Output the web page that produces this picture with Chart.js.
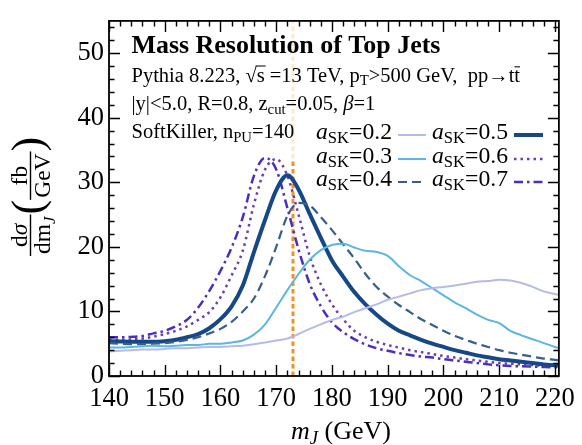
<!DOCTYPE html>
<html>
<head>
<meta charset="utf-8">
<title>Mass Resolution of Top Jets</title>
<script src="https://cdn.jsdelivr.net/npm/chart.js@4/dist/chart.umd.min.js"></script>
<style>
  html, body { margin: 0; padding: 0; background: #ffffff; }
  canvas { display: block; }
</style>
</head>
<body>
<canvas id="chart" width="582" height="445"></canvas>
<script>
// Jet mass bins (GeV)
const mJ = [140,142,144,146,148,150,152,154,156,158,160,162,164,166,168,170,172,174,176,178,
            180,182,184,186,188,190,192,194,196,198,200,202,204,206,208,210,212,214,216,218,220,222];

// dσ/dm_J (fb/GeV) for each SoftKiller parameter a_SK
const sk02 = [3.8,3.9,4.0,4.1,4.1,4.2,4.3,4.3,4.4,4.5,4.5,4.6,4.7,4.9,5.2,5.5,5.8,6.5,7.3,8.0,
              8.7,9.2,9.9,10.5,11.1,11.8,12.3,12.8,13.3,13.6,13.8,14.0,14.3,14.6,14.7,14.9,14.8,14.4,13.8,13.1,12.7,12.3];
const sk03 = [4.4,4.4,4.5,4.6,4.7,4.6,4.7,4.8,4.8,5.0,5.0,5.2,5.5,6.4,8.0,10.6,13.3,15.8,18.0,19.5,
              20.3,20.5,19.9,19.4,19.2,18.6,17.0,15.6,14.7,13.6,12.5,11.4,10.5,9.5,8.7,8.2,7.0,6.3,5.7,5.1,4.5,4.1];
const sk04 = [5.1,5.0,4.95,4.95,5.0,5.1,5.3,5.6,6.0,6.6,7.3,8.4,10.0,12.0,15.5,20.0,24.8,26.8,26.4,24.6,
              22.6,20.4,18.2,15.8,13.8,12.3,11.0,9.9,8.8,7.9,7.0,6.2,5.6,5.0,4.5,4.0,3.6,3.3,3.0,2.7,2.5,2.3];
const sk05 = [5.4,5.35,5.3,5.3,5.3,5.4,5.6,6.0,6.5,7.4,8.8,10.8,14.0,19.2,24.2,28.8,31.1,28.9,25.1,21.4,
              17.9,15.4,13.0,11.1,9.5,8.1,7.0,6.3,5.6,5.0,4.5,4.0,3.6,3.2,2.9,2.6,2.4,2.2,2.0,1.8,1.65,1.55];
const sk06 = [5.6,5.6,5.65,5.8,6.1,6.5,7.0,7.7,8.7,9.9,12.2,15.6,19.4,26.6,32.0,33.6,31.0,25.0,18.6,14.2,
              11.1,8.8,7.0,6.0,5.3,4.8,4.4,4.0,3.7,3.4,3.1,2.85,2.6,2.4,2.2,2.0,1.9,1.8,1.7,1.6,1.55,1.5];
const sk07 = [6.0,6.0,6.05,6.2,6.6,7.0,7.7,8.7,10.6,13.2,16.3,19.9,24.6,31.0,33.8,32.0,26.0,19.6,14.3,10.8,
              8.3,6.8,5.7,4.9,4.3,3.9,3.55,3.25,3.0,2.85,2.6,2.4,2.2,2.0,1.8,1.65,1.55,1.5,1.45,1.4,1.35,1.3];

const skLabels = ['0.2','0.3','0.4','0.5','0.6','0.7'];

// Reference top-quark mass marker (GeV)
const topMass = 173;

// Axis ticks
const xMajorTicks = [140,150,160,170,180,190,200,210,220];
const yMajorTicks = [0,10,20,30,40,50];

const FAM = '"Liberation Serif", "Times New Roman", serif';
function font(size, style) { return (style ? style + ' ' : '') + size.toFixed(2) + 'px ' + FAM; }

const styles = [
  { color: '#b4bbe8', width: 2.0, dash: [] },
  { color: '#5cb6e3', width: 2.0, dash: [] },
  { color: '#355f8d', width: 2.2, dash: [9, 5] },
  { color: '#174886', width: 4.0, dash: [] },
  { color: '#6a3db0', width: 2.5, dash: [2.5, 4] },
  { color: '#4a2cc6', width: 2.5, dash: [9, 4, 2.5, 4] }
];
const series = [sk02, sk03, sk04, sk05, sk06, sk07];

const datasets = series.map((vals, i) => ({
  label: 'a_SK=' + skLabels[i],
  data: mJ.map((x, j) => ({ x: x, y: vals[j] })),
  borderColor: styles[i].color,
  borderWidth: styles[i].width,
  borderDash: styles[i].dash,
  borderCapStyle: 'butt',
  pointRadius: 0,
  fill: false,
  cubicInterpolationMode: 'monotone'
}));

// rich text runs: {t, k: size factor, st: font style, dy: baseline shift in em, bar: overline height in em}
function runWidth(ctx, parts, size) {
  let w = 0;
  for (const p of parts) { ctx.font = font(size * (p.k || 1), p.st || ''); w += ctx.measureText(p.t).width; }
  return w;
}
function drawRun(ctx, parts, x, y, size) {
  for (const p of parts) {
    const s = size * (p.k || 1);
    ctx.font = font(s, p.st || '');
    const w = ctx.measureText(p.t).width;
    const yy = y + (p.dy || 0) * size;
    ctx.fillText(p.t, x, yy);
    if (p.bar) {
      ctx.save();
      ctx.lineWidth = Math.max(1, s * 0.05);
      ctx.beginPath();
      ctx.moveTo(x + (p.barL || 0) * s, yy - p.bar * s);
      ctx.lineTo(x + w + (p.barR || 0) * s, yy - p.bar * s);
      ctx.stroke();
      ctx.restore();
    }
    x += w;
  }
  return x;
}
function fitSize(ctx, parts, target) { return 20 * target / runWidth(ctx, parts, 20); }

const decor = {
  id: 'decor',
  beforeDatasetsDraw(chart) {
    const { ctx, chartArea: a, scales: { x } } = chart;
    const px = x.getPixelForValue(topMass);
    ctx.save();
    ctx.beginPath(); ctx.rect(a.left, a.top, a.right - a.left, a.bottom - a.top); ctx.clip();
    ctx.strokeStyle = '#f7901e';
    ctx.lineWidth = 3;
    ctx.setLineDash([4.5, 3]);
    ctx.beginPath(); ctx.moveTo(px, a.bottom); ctx.lineTo(px, a.top); ctx.stroke();
    // translucent backdrop behind the annotation block
    ctx.fillStyle = 'rgba(255,255,255,0.78)';
    ctx.fillRect(a.left, a.top, a.right - a.left, 139);
    ctx.restore();
  },
  afterDraw(chart) {
    const { ctx, chartArea: a, scales: { x, y } } = chart;
    ctx.save();
    ctx.fillStyle = '#000'; ctx.strokeStyle = '#000';
    ctx.textBaseline = 'alphabetic'; ctx.textAlign = 'left';

    // frame
    ctx.lineWidth = 1.8;
    ctx.strokeRect(a.left, a.top, a.right - a.left, a.bottom - a.top);

    // tick marks, mirrored on all four sides
    ctx.lineWidth = 1.4;
    ctx.beginPath();
    for (let v = 140; v <= 220; v += 2) {
      const p = Math.round(x.getPixelForValue(v)) + 0.5;
      const L = (v % 10 === 0) ? 11 : 5.5;
      ctx.moveTo(p, a.bottom); ctx.lineTo(p, a.bottom - L);
      ctx.moveTo(p, a.top); ctx.lineTo(p, a.top + L);
    }
    for (let v = 0; v <= 54; v += 2) {
      const p = Math.round(y.getPixelForValue(v)) + 0.5;
      const L = (v % 10 === 0) ? 11 : 5.5;
      ctx.moveTo(a.left, p); ctx.lineTo(a.left + L, p);
      ctx.moveTo(a.right, p); ctx.lineTo(a.right - L, p);
    }
    ctx.stroke();

    // annotation block
    const tx = 131.5;
    const title = [{ t: 'Mass Resolution of Top Jets', st: 'bold' }];
    drawRun(ctx, title, tx, 53, fitSize(ctx, title, 309));

    const l2 = [
      { t: 'Pythia 8.223, ' }, { t: '\u221A' }, { t: 's', bar: 0.78, barL: -0.05, barR: 0.05 },
      { t: ' =13 TeV, p' }, { t: 'T', k: 0.72, dy: 0.16 },
      { t: '>500 GeV,  pp\u2192t' }, { t: 't', bar: 0.74 }
    ];
    const l4 = [{ t: 'SoftKiller, n' }, { t: 'PU', k: 0.72, dy: 0.18 }, { t: '=140' }];
    const l3 = [
      { t: '|y|<5.0, R=0.8, z' }, { t: 'cut', k: 0.72, dy: 0.18 },
      { t: '=0.05, ' }, { t: '\u03B2', st: 'italic' }, { t: '=1' }
    ];
    const s2 = fitSize(ctx, l2, 393);
    const s4 = fitSize(ctx, l4, 161);
    const sBody = (s2 + s4) / 2;
    drawRun(ctx, l2, tx, 82, sBody);
    drawRun(ctx, l3, tx, 110, sBody);
    drawRun(ctx, l4, tx, 138, sBody);

    // legend: two columns, three rows
    const leg = (lab) => [{ t: 'a', st: 'italic' }, { t: 'SK', k: 0.7, dy: 0.2 }, { t: '=' + lab }];
    const sL = fitSize(ctx, leg('0.2'), 76);
    const rows = [138.5, 162.5, 185.5];
    const colX = [316, 432];
    const sampX = [[398, 426], [514, 543]];
    for (let i = 0; i < 6; i++) {
      const c = Math.floor(i / 3), r = i % 3;
      ctx.fillStyle = '#000';
      drawRun(ctx, leg(skLabels[i]), colX[c], rows[r], sL);
      const ds = chart.data.datasets[i];
      ctx.save();
      ctx.strokeStyle = ds.borderColor; ctx.lineWidth = ds.borderWidth;
      ctx.setLineDash(ds.borderDash); ctx.lineCap = 'butt';
      ctx.beginPath();
      ctx.moveTo(sampX[c][0], rows[r] - 3.5); ctx.lineTo(sampX[c][1], rows[r] - 3.5);
      ctx.stroke();
      ctx.restore();
    }

    // x-axis title
    const xt = [{ t: 'm', st: 'italic' }, { t: 'J', st: 'italic', k: 0.72, dy: 0.2 }, { t: ' (GeV)' }];
    const sx = 26;
    const wx = runWidth(ctx, xt, sx);
    drawRun(ctx, xt, 341 - wx / 2, 439, sx);

    // y-axis title: dσ/dm_J (fb/GeV), rotated
    ctx.save();
    ctx.translate(30.5, 190);
    ctx.rotate(-Math.PI / 2);
    const fs = 23.5;
    const num1 = [{ t: 'd' }, { t: '\u03C3', st: 'italic' }];
    const den1 = [{ t: 'dm' }, { t: 'J', st: 'italic', k: 0.72, dy: 0.2 }];
    const num2 = [{ t: 'fb' }];
    const den2 = [{ t: 'GeV' }];
    const frac = (num, den, u0) => {
      const wn = runWidth(ctx, num, fs), wd = runWidth(ctx, den, fs);
      const W = Math.max(wn, wd) + 4;
      drawRun(ctx, num, u0 + (W - wn) / 2, -4, fs);
      drawRun(ctx, den, u0 + (W - wd) / 2, fs * 0.7 + 3.5, fs);
      ctx.fillRect(u0, -0.7, W, 1.4);
      return u0 + W;
    };
    let u = -66;
    u = frac(num1, den1, u);
    const ps = 44;
    ctx.font = font(ps, '');
    ctx.fillText('(', u, ps * 0.25);
    u += ctx.measureText('(').width;
    u = frac(num2, den2, u);
    ctx.font = font(ps, '');
    ctx.fillText(')', u, ps * 0.25);
    ctx.restore();

    ctx.restore();
  }
};

const canvas = document.getElementById('chart');
new Chart(canvas.getContext('2d'), {
  type: 'line',
  data: { datasets: datasets },
  options: {
    responsive: false,
    animation: false,
    devicePixelRatio: 1,
    layout: { padding: { left: 0, right: 16, top: 11, bottom: 0 } },
    plugins: { legend: { display: false }, tooltip: { enabled: false } },
    scales: {
      x: {
        type: 'linear', min: 140, max: 220.7,
        grid: { display: false, drawTicks: false },
        border: { display: false },
        afterBuildTicks: (s) => { s.ticks = xMajorTicks.map(v => ({ value: v })); },
        ticks: {
          color: '#000', padding: 7, maxRotation: 0, autoSkip: false,
          font: { family: FAM, size: 26.5 },
          callback: (v) => String(v)
        },
        afterFit: (s) => { s.height = 69; }
      },
      y: {
        type: 'linear', min: 0, max: 55,
        grid: { display: false, drawTicks: false },
        border: { display: false },
        afterBuildTicks: (s) => { s.ticks = yMajorTicks.map(v => ({ value: v })); },
        ticks: {
          color: '#000', padding: 5,
          font: { family: FAM, size: 26.5 },
          callback: (v) => String(v)
        },
        afterFit: (s) => { s.width = 109; }
      }
    }
  },
  plugins: [decor]
});
</script>
</body>
</html>
